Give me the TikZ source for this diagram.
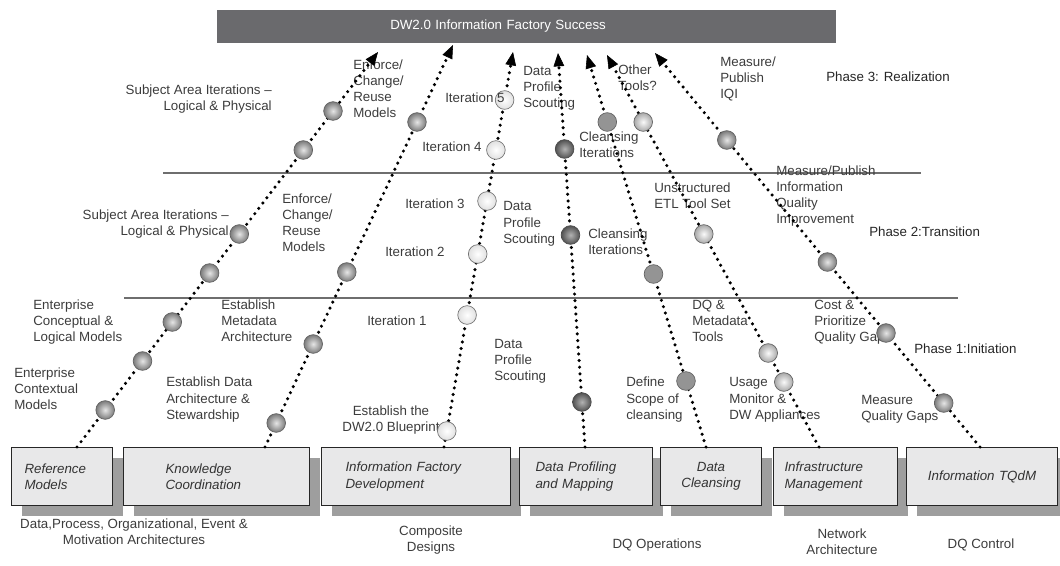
\documentclass[tikz,border=0pt]{standalone}
\usepackage{fontspec}
\setmainfont{Liberation Sans}
\usetikzlibrary{arrows.meta,shadows}
\definecolor{barc}{HTML}{6A6A6D}
\definecolor{boxc}{HTML}{E8E8E9}
\definecolor{shadc}{HTML}{9E9E9E}
\definecolor{labcol}{HTML}{3C3C3C}
\definecolor{rulec}{HTML}{6E6E6E}
\newcommand\labfont{\fontsize{10}{12.2}\selectfont}
\begin{document}
\begin{tikzpicture}[x=0.75pt,y=-0.75pt,
  lab/.style={font=\labfont, text=labcol, inner sep=0pt, align=left, anchor=west, text height=7.2pt, text depth=2.1pt},
  labr/.style={lab, align=right, anchor=east},
  labmid/.style={lab, align=center, anchor=center},
  phase/.style={lab, text=black!85},
  boxstyle/.style={draw=black!85, line width=0.8pt, fill=boxc, anchor=north west, minimum height=43.5pt, inner ysep=0pt, font=\labfont\itshape, text=black!80, align=left, drop shadow={shadow xshift=7.5pt, shadow yshift=-7.5pt, fill=shadc, opacity=1}},
  rulestyle/.style={rulec, line width=0.9pt},
  dotarrow/.style={line width=2.6pt, line cap=round, dash pattern=on 0pt off 5pt, -{Triangle[length=10pt,width=8pt,line width=0.4pt]}},
  ball/.style={circle, inner sep=0pt, minimum size=14pt, draw=black!62, line width=0.5pt},
  ballmid/.style={ball, inner color=black!10, outer color=black!52},
  balldark/.style={ball, inner color=black!30, outer color=black!68, draw=black!70},
  ballflat/.style={ball, fill=black!42},
  balllight/.style={ball, inner color=black!2, outer color=black!34},
  ballwhite/.style={ball, inner color=white, outer color=black!12, draw=black!55}
]
\useasboundingbox (0,0) rectangle (1060,565);

% top bar
\node[fill=barc, anchor=north west, minimum width=464.25pt, minimum height=25.1pt, inner ysep=0pt, inner xsep=129.75pt, text width=204.75pt, align=left, font=\labfont, text=white] (top) at (217,9.5) {DW2.0 Information Factory Success};

% phase rules
\coordinate (r1a) at (163,173); \coordinate (r1b) at (921,173);
\coordinate (r2a) at (124,298); \coordinate (r2b) at (958,298);
\draw[rulestyle] (r1a) -- (r1b);
\draw[rulestyle] (r2a) -- (r2b);

% bottom boxes
\node[boxstyle, minimum width=75.75pt, text width=56.25pt, inner xsep=9.75pt] (b1) at (11,447) {Reference\\Models};
\node[boxstyle, minimum width=139.5pt, text width=76.5pt, inner xsep=31.5pt] (b2) at (123,447) {Knowledge\\Coordination};
\node[boxstyle, minimum width=141.75pt, text width=105.75pt, inner xsep=18pt] (b3) at (321,447) {Information Factory\\Development};
\node[boxstyle, minimum width=99.75pt, text width=75.75pt, inner xsep=12pt] (b4) at (519,447) {Data Profiling\\and Mapping};
\node[boxstyle, minimum width=75.75pt, text width=65.75pt, inner xsep=5pt, align=center] (b5) at (660,447) {Data\\Cleansing};
\node[boxstyle, minimum width=93pt, text width=76.5pt, inner xsep=8.25pt] (b6) at (773,447) {Infrastructure\\Management};
\node[boxstyle, minimum width=113.25pt, text width=103.25pt, inner xsep=5pt, align=center] (b7) at (906,447) {Information TQdM};

% bottom captions
\node[labmid] (c1) at (134,541.5) {Data,Process, Organizational, Event \&\\Motivation Architectures};
\node[labmid] (c2) at (431,548) {Composite\\Designs};
\node[labmid] (c3) at (657,545) {DQ Operations};
\node[labmid] (c4) at (842,551.5) {Network\\Architecture};
\node[labmid] (c5) at (981,545) {DQ Control};

% labels
\node[labr] (l1) at (272,107) {Subject Area Iterations --\\Logical \& Physical};
\node[lab] (l2) at (353,114.5) {Enforce/\\Change/\\Reuse\\Models};
\node[lab] (l4) at (422,148) {Iteration 4};
\node[lab] (l5) at (405,205) {Iteration 3};
\node[lab] (l6) at (523,104.5) {Data\\Profile\\Scouting};
\node[lab] (l7) at (618,87) {Other\\Tools?};
\node[lab] (l8) at (579,154) {Cleansing\\Iterations};
\node[lab] (l9) at (720,95.5) {Measure/\\Publish\\IQI};
\node[phase] (p3) at (826,78) {Phase 3: Realization};
\node[lab] (l11) at (654,205) {Unstructured\\ETL Tool Set};
\node[lab] (l12) at (776,220.5) {Measure/Publish\\Information\\Quality\\Improvement};
\node[phase] (p2) at (869,233) {Phase 2:Transition};
\node[lab] (l14) at (588,251.5) {Cleansing\\Iterations};
\node[lab] (l15) at (692,338.5) {DQ \&\\Metadata\\Tools};
\node[lab] (l16) at (814,338.5) {Cost \&\\Prioritize\\Quality Gaps};
\node[phase] (p1) at (914,350) {Phase 1:Initiation};
\node[lab] (l18) at (626,416) {Define\\Scope of\\cleansing};
\node[lab] (l19) at (729,416) {Usage\\Monitor \&\\DW Appliances};
\node[lab] (l20) at (861,417) {Measure\\Quality Gaps};
\node[labr] (l21) at (229,232) {Subject Area Iterations --\\Logical \& Physical};
\node[lab] (l22) at (282,248.5) {Enforce/\\Change/\\Reuse\\Models};
\node[lab] (l23) at (385,253) {Iteration 2};
\node[lab] (l24) at (503,240) {Data\\Profile\\Scouting};
\node[lab] (l25) at (33,338.5) {Enterprise\\Conceptual \&\\Logical Models};
\node[lab] (l26) at (221,338.5) {Establish\\Metadata\\Architecture};
\node[lab] (l27) at (367,322) {Iteration 1};
\node[lab] (l28) at (14,406.5) {Enterprise\\Contextual\\Models};
\node[lab] (l29) at (166,416) {Establish Data\\Architecture \&\\Stewardship};
\node[labmid] (l30) at (391,428) {Establish the\\DW2.0 Blueprint};
\node[lab] (l31) at (494,377.5) {Data\\Profile\\Scouting};

% connector ends
\coordinate (s1) at (77,447);  \coordinate (t1) at (378,52);
\coordinate (s2) at (265,447); \coordinate (t2) at (453,45);
\coordinate (s3) at (444,447); \coordinate (t3) at (513,52);
\coordinate (s4) at (585,447); \coordinate (t4) at (558,53);
\coordinate (s5) at (706,447); \coordinate (t5) at (587,55);
\coordinate (s6) at (819,447); \coordinate (t6) at (607,55);
\coordinate (s7) at (980,447); \coordinate (t7) at (655,53);
\foreach \i in {1,...,7} \draw[dotarrow] (s\i) -- (t\i);

% milestones
\node[ballmid] (m11) at (105.2,410) {};
\node[ballmid] (m12) at (142.5,361) {};
\node[ballmid] (m13) at (172.3,322) {};
\node[ballmid] (m14) at (209.6,273) {};
\node[ballmid] (m15) at (239.3,234) {};
\node[ballmid] (m16) at (303.3,150) {};
\node[ballmid] (m17) at (333,111) {};
\node[ballmid] (m21) at (276.2,423) {};
\node[ballmid] (m22) at (313.2,344) {};
\node[ballmid] (m23) at (346.8,272) {};
\node[ballmid] (m24) at (417,122) {};
\node[ballwhite] (m31) at (446.8,431) {};
\node[ballwhite] (m32) at (467.1,315) {};
\node[ballwhite] (m33) at (477.7,254) {};
\node[ballwhite] (m34) at (487,201) {};
\node[ballwhite] (m35) at (495.9,150) {};
\node[ballwhite] (m36) at (504.6,100) {};
\node[balldark] (m41) at (581.9,402) {};
\node[balldark] (m42) at (570.5,235) {};
\node[balldark] (m43) at (564.6,149) {};
\node[ballflat] (m51) at (686,381) {};
\node[ballflat] (m52) at (653.5,274) {};
\node[ballflat] (m53) at (607.3,122) {};
\node[balllight] (m61) at (783.8,382) {};
\node[balllight] (m62) at (768.2,353) {};
\node[balllight] (m63) at (703.8,234) {};
\node[balllight] (m64) at (643.2,122) {};
\node[ballmid] (m71) at (943.7,403) {};
\node[ballmid] (m72) at (886,333) {};
\node[ballmid] (m73) at (827.4,262) {};
\node[ballmid] (m74) at (726.8,140) {};

\node[lab] (l3) at (445,99) {Iteration 5};
\end{tikzpicture}
\end{document}
